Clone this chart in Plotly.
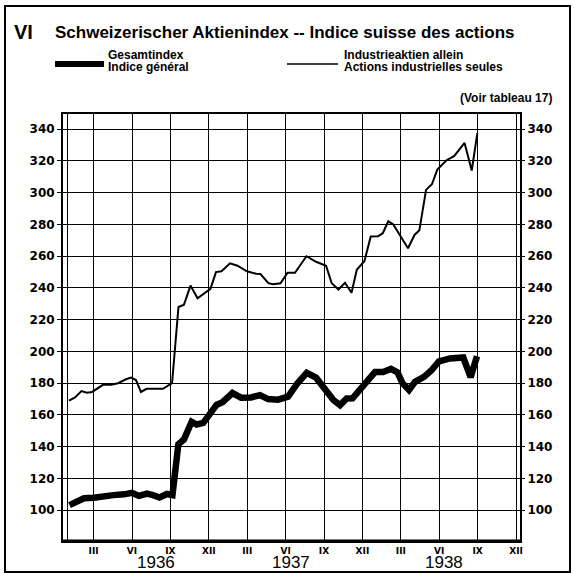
import plotly.graph_objects as go

# Month position on the time axis: 1 = January 1936 ... 36 = December 1938
gesamt_month = [1.12, 1.63, 2.25, 3.03, 3.76, 4.54, 5.38, 6.00, 6.55, 7.17, 7.64, 8.15, 8.73, 9.16,
                9.62, 10.06, 10.66, 11.05, 11.57, 12.09, 12.62, 13.07, 13.85, 14.52, 15.30, 16.00,
                16.63, 17.41, 18.19, 18.93, 19.65, 20.38, 21.08, 21.73, 22.25, 22.77, 23.23, 23.89,
                24.36, 24.98, 25.61, 26.23, 26.74, 27.13, 27.64, 28.11, 28.81, 29.36, 29.98, 30.84,
                31.88, 32.45, 32.95]
gesamt_value = [103.2, 105.2, 107.5, 107.8, 109.0, 109.5, 110.0, 110.9, 109.0, 110.5, 109.5, 108.0, 110.2, 109.5,
                141.5, 144.6, 155.7, 154.0, 155.0, 160.5, 166.5, 168.0, 173.8, 170.9, 171.0, 172.5,
                170.0, 169.6, 171.5, 180.0, 186.5, 183.5, 177.0, 169.4, 166.2, 170.4, 170.5, 177.2,
                181.5, 187.0, 187.0, 189.0, 186.8, 180.0, 175.7, 180.9, 184.0, 187.8, 193.8, 195.6,
                196.2, 183.8, 197.0]

industrie_month = [1.08, 1.55, 2.05, 2.48, 2.88, 3.27, 3.73, 4.36, 4.91, 5.53, 5.92, 6.31, 6.70, 7.13,
                   7.64, 8.42, 9.13, 9.63, 10.06, 10.57, 11.12, 11.63, 12.13, 12.56, 12.99, 13.66,
                   14.24, 14.98, 15.69, 16.04, 16.65, 17.02, 17.60, 18.15, 18.73, 19.63, 20.38, 21.16,
                   21.60, 22.13, 22.64, 23.15, 23.56, 24.16, 24.65, 25.22, 25.59, 26.02, 26.41, 27.56,
                   28.07, 28.45, 28.97, 29.44, 29.85, 30.57, 31.16, 31.98, 32.54, 32.98]
industrie_value = [169.0, 171.0, 175.0, 174.0, 174.5, 176.5, 179.0, 179.0, 180.0, 182.5, 183.5, 182.0, 174.5, 176.5,
                   176.5, 176.5, 180.0, 228.0, 229.5, 241.5, 233.5, 236.5, 239.5, 250.0, 250.5, 255.5,
                   254.0, 250.5, 249.0, 248.8, 243.0, 242.3, 243.0, 249.6, 249.6, 260.0, 256.5, 254.0,
                   243.0, 239.0, 243.3, 237.0, 251.5, 257.0, 272.4, 272.6, 274.5, 282.0, 280.0, 265.0,
                   273.4, 276.3, 301.8, 305.5, 314.6, 320.5, 323.0, 331.4, 314.0, 337.6]

month_ticks = [1, 3, 6, 9, 12, 15, 18, 21, 24, 27, 30, 33, 36]
month_labels = ["", "III", "VI", "IX", "XII", "III", "VI", "IX", "XII", "III", "VI", "IX", "XII"]
value_ticks = [100, 120, 140, 160, 180, 200, 220, 240, 260, 280, 300, 320, 340]
years = ["1936", "1937", "1938"]
year_pos = [7.9, 18.4, 30.4]

W, H = 574, 573
L, R, T, B = 63, 54, 114, 32
PW, PH = W - L - R, H - T - B


def px(x):
    return (x - L) / PW


def py(y):
    return (H - B - y) / PH


fig = go.Figure()
fig.add_trace(go.Scatter(x=industrie_month, y=industrie_value, mode="lines",
                         line=dict(color="black", width=2), showlegend=False, hoverinfo="skip"))
fig.add_trace(go.Scatter(x=gesamt_month, y=gesamt_value, mode="lines",
                         line=dict(color="black", width=6.5), showlegend=False, hoverinfo="skip"))
fig.add_trace(go.Scatter(x=[None], y=[None], yaxis="y2", showlegend=False, hoverinfo="skip"))

tickfont = dict(family="DejaVu Sans", size=12, color="black", weight="bold")

fig.update_layout(
    width=W, height=H,
    margin=dict(l=L, r=R, t=T, b=B, pad=0),
    paper_bgcolor="white", plot_bgcolor="white",
    showlegend=False,
    xaxis=dict(range=[0.61, 36.31], tickmode="array", tickvals=month_ticks, ticktext=month_labels,
               showgrid=True, gridcolor="black", gridwidth=1.2, zeroline=False,
               showline=True, linecolor="black", linewidth=2, mirror=True, ticks="",
               tickfont=dict(family="DejaVu Sans", size=9, color="black", weight="bold")),
    yaxis=dict(range=[80.6, 349.6], tickmode="array", tickvals=value_ticks,
               showgrid=True, gridcolor="black", gridwidth=1.2, zeroline=False,
               showline=True, linecolor="black", linewidth=2, mirror=True,
               ticks="outside", ticklen=4, tickcolor="black", tickwidth=1.2, tickfont=tickfont),
    yaxis2=dict(range=[80.6, 349.6], tickmode="array", tickvals=value_ticks, overlaying="y", side="right",
                showgrid=False, zeroline=False, showline=False,
                ticks="outside", ticklen=4, tickcolor="black", tickwidth=1.2, tickfont=tickfont),
)

shapes = [
    # outer frame
    dict(type="rect", xref="paper", yref="paper", x0=px(5), x1=px(570), y0=py(572), y1=py(6),
         line=dict(color="black", width=2)),
    # thick bottom axis
    dict(type="line", xref="paper", yref="paper", x0=0, x1=1, y0=0, y1=0, line=dict(color="black", width=3)),
    # legend samples
    dict(type="line", xref="paper", yref="paper", x0=px(55), x1=px(104), y0=py(64), y1=py(64),
         line=dict(color="black", width=6)),
    dict(type="line", xref="paper", yref="paper", x0=px(287), x1=px(338), y0=py(64), y1=py(64),
         line=dict(color="black", width=1.5)),
]
fig.update_layout(shapes=shapes)


def text(s, x, y, size, anchor="left", weight="bold", family="Liberation Sans"):
    fig.add_annotation(text=s, xref="paper", yref="paper", x=px(x), y=py(y), xanchor=anchor,
                       yanchor="middle", showarrow=False,
                       font=dict(family=family, size=size, color="black", weight=weight))


text("VI", 12, 32, 20)
text("Schweizerischer Aktienindex -- Indice suisse des actions", 53, 32, 17)
text("Gesamtindex", 106, 55, 12)
text("Indice général", 106, 67, 12)
text("Industrieaktien allein", 342, 55, 12)
text("Actions industrielles seules", 342, 67, 12)
text("(Voir tableau 17)", 554, 98, 12, anchor="right")

for yr, pos in zip(years, year_pos):
    fig.add_annotation(text=yr, xref="x", yref="paper", x=pos, y=py(562.5), xanchor="center",
                       yanchor="middle", showarrow=False,
                       font=dict(family="Liberation Sans", size=17, color="black"))

fig.write_html("out.html", config={"displayModeBar": False},
               post_script="document.body.style.margin='0';document.body.style.overflow='hidden';")
